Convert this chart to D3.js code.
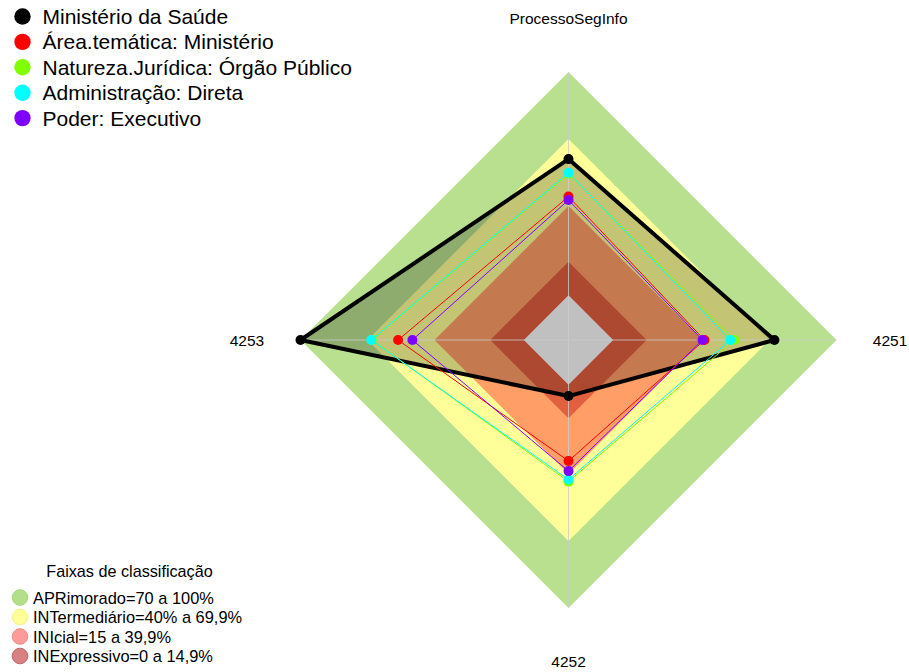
<!DOCTYPE html>
<html>
<head>
<meta charset="utf-8">
<script src="https://cdn.jsdelivr.net/npm/d3@7"></script>
<style>
  html, body { margin: 0; padding: 0; background: #ffffff; }
  svg { display: block; font-family: "Liberation Sans", Arial, sans-serif; }
</style>
</head>
<body>
<svg id="chart" width="909" height="672"></svg>
<script>
// Radar axes, clockwise from the top
const categories = ["ProcessoSegInfo", "4251", "4252", "4253"];

// Series (percent per axis, same order as categories)
const seriesNames = [
  "Ministério da Saúde",
  "Área.temática: Ministério",
  "Natureza.Jurídica: Órgão Público",
  "Administração: Direta",
  "Poder: Executivo"
];
const seriesColors = ["#000000", "#ff0000", "#80ff00", "#00ffff", "#8000ff"];
const saude = [61.0, 72.2, 5.1, 100];
const areaTematica = [44.2, 40.9, 34.2, 56.3];
const naturezaJuridica = [54.5, 54.3, 43.4, 68.0];
const administracao = [54.9, 52.5, 42.5, 68.3];
const poder = [42.7, 40.0, 38.7, 49.9];
const seriesValues = [saude, areaTematica, naturezaJuridica, administracao, poder];

// Classification bands (upper bound of each band)
const bandNames = [
  "APRimorado=70 a 100%",
  "INTermediário=40% a 69,9%",
  "INIcial=15 a 39,9%",
  "INExpressivo=0 a 14,9%"
];
const bandUpper = [100, 70, 40, 15];
const bandFill = ["#b8e08e", "#ffff99", "#ff9e66", "#e0603f"];
const bandLegendFill = ["#b3df8a", "#ffff99", "#ff9a9a", "#d98080"];
const bandLegendStroke = ["#a6d67a", "#f2f28a", "#f08a8a", "#c06868"];
const scaleMin = -20;
const scaleMax = 100;

const svg = d3.select("#chart");
const cx = 568.5, cy = 340, R = 268;

const r = d3.scaleLinear().domain([scaleMin, scaleMax]).range([0, R]);
const angle = d3.scaleLinear().domain([0, categories.length]).range([0, 2 * Math.PI]);

const radial = d3.lineRadial()
  .angle((d, i) => angle(i))
  .radius(d => r(d))
  .curve(d3.curveLinearClosed);

const plot = svg.append("g").attr("transform", `translate(${cx},${cy})`);

// classification bands, drawn from the outside in
plot.selectAll("path.band")
  .data(bandUpper)
  .join("path")
  .attr("class", "band")
  .attr("d", v => radial(categories.map(() => v)))
  .attr("fill", (v, i) => bandFill[i]);

// shaded area of the main series
plot.append("path")
  .attr("d", radial(saude))
  .attr("fill", "#000000")
  .attr("fill-opacity", 0.23);

// centre (below zero)
plot.append("path")
  .attr("d", radial(categories.map(() => 0)))
  .attr("fill", "#c0c0c0");

// spokes
plot.selectAll("line.spoke")
  .data(categories)
  .join("line")
  .attr("class", "spoke")
  .attr("x1", 0).attr("y1", 0)
  .attr("x2", (d, i) => r(scaleMax) * Math.sin(angle(i)))
  .attr("y2", (d, i) => -r(scaleMax) * Math.cos(angle(i)))
  .attr("stroke", "#cccccc")
  .attr("stroke-opacity", 0.8)
  .attr("stroke-width", 1);

// axis labels
plot.selectAll("text.axis")
  .data(categories)
  .join("text")
  .attr("class", "axis")
  .attr("x", (d, i) => 1.2 * r(scaleMax) * Math.sin(angle(i)))
  .attr("y", (d, i) => -1.2 * r(scaleMax) * Math.cos(angle(i)))
  .attr("text-anchor", "middle")
  .attr("dominant-baseline", "central")
  .attr("font-size", 15.5)
  .attr("fill", "#000")
  .text(d => d);

// series lines and points
seriesValues.forEach((vals, s) => {
  const g = plot.append("g");
  g.append("path")
    .attr("d", radial(vals))
    .attr("fill", "none")
    .attr("stroke", seriesColors[s])
    .attr("stroke-width", s === 0 ? 4 : 1)
    .attr("stroke-linejoin", "round");
  g.selectAll("circle")
    .data(vals)
    .join("circle")
    .attr("cx", (d, i) => r(d) * Math.sin(angle(i)))
    .attr("cy", (d, i) => -r(d) * Math.cos(angle(i)))
    .attr("r", 5)
    .attr("fill", seriesColors[s]);
});

// series legend (top left)
const leg = svg.append("g");
seriesNames.forEach((name, i) => {
  const y = 16.5 + i * 25.4;
  leg.append("circle")
    .attr("cx", 22.5).attr("cy", y).attr("r", 8.2)
    .attr("fill", seriesColors[i]);
  leg.append("text")
    .attr("x", 42.5).attr("y", y)
    .attr("dominant-baseline", "central")
    .attr("font-size", 21)
    .attr("fill", "#000")
    .text(name);
});

// classification legend (bottom left)
const leg2 = svg.append("g");
leg2.append("text")
  .attr("x", 129.5).attr("y", 571)
  .attr("text-anchor", "middle")
  .attr("dominant-baseline", "central")
  .attr("font-size", 16.2)
  .attr("fill", "#000")
  .text("Faixas de classificação");
bandNames.forEach((name, i) => {
  const y = 597.5 + i * 19.5;
  leg2.append("circle")
    .attr("cx", 20).attr("cy", y).attr("r", 7.8)
    .attr("fill", bandLegendFill[i])
    .attr("stroke", bandLegendStroke[i])
    .attr("stroke-width", 1);
  leg2.append("text")
    .attr("x", 33).attr("y", y)
    .attr("dominant-baseline", "central")
    .attr("font-size", 16.4)
    .attr("fill", "#000")
    .text(name);
});
</script>
</body>
</html>
